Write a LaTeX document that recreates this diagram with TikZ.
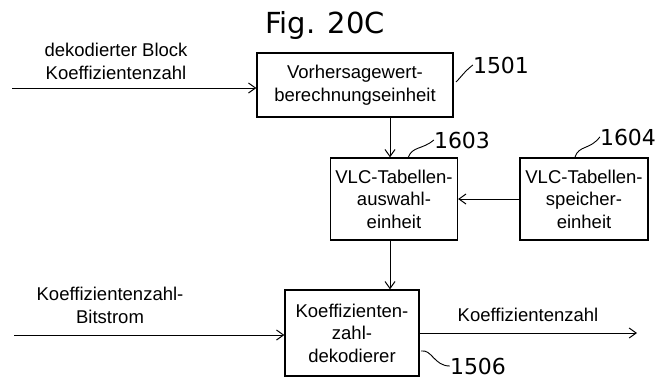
\documentclass[tikz,border=0pt]{standalone}
\usepackage{fontspec}
\setmainfont{Liberation Sans}
\newfontfamily\numfont{DejaVu Sans}
\usetikzlibrary{arrows.meta}
\begin{document}
\begin{tikzpicture}[x=1pt,y=-1pt,
  blk/.style={draw,line width=1.3pt,align=center,inner sep=0pt,font=\fontsize{18.5}{22.5}\selectfont},
  lbl/.style={align=center,inner sep=0pt,font=\fontsize{18.5}{23}\selectfont},
  refnum/.style={inner sep=0pt,font=\numfont\fontsize{22}{24}\selectfont},
  conn/.style={line width=1pt,-{Straight Barb[length=7pt,width=10pt]}},
  lead/.style={line width=0.9pt}]
\useasboundingbox (0,0) rectangle (658,381);
\node[inner sep=0pt,font=\numfont\fontsize{29}{30}\selectfont] (title) at (325,25) {Fig. 20C};
\node[blk,minimum width=196pt,minimum height=64pt] (b1501) at (355,85) {Vorhersagewert-\\berechnungseinheit};
\node[blk,minimum width=127pt,minimum height=82pt] (b1603) at (394,199) {VLC-Tabellen-\\auswahl-\\einheit};
\node[blk,minimum width=128pt,minimum height=82pt] (b1604) at (584,199) {VLC-Tabellen-\\speicher-\\einheit};
\node[blk,minimum width=134pt,minimum height=86pt] (b1506) at (352,333) {Koeffizienten-\\zahl-\\dekodierer};
\node[lbl] (l1) at (116,61) {dekodierter Block\\Koeffizientenzahl};
\node[lbl] (l2) at (110,305) {Koeffizientenzahl-\\Bitstrom};
\node[lbl] (l3) at (528,315) {Koeffizientenzahl};
\node[refnum] (n1501) at (501,65) {1501};
\node[refnum] (n1603) at (462,140) {1603};
\node[refnum] (n1604) at (628,137) {1604};
\node[refnum] (n1506) at (478,366) {1506};
\coordinate (in1) at (12,88);
\coordinate (in2) at (14,335);
\coordinate (out) at (637,333);
\draw[conn] (in1) -- (in1 -| b1501.west);
\draw[conn] ([xshift=-4pt]b1501.south -| b1603.north) -- ([xshift=-4pt]b1603.north);
\draw[conn] (b1604.west) -- (b1603.east);
\draw[conn] ([xshift=-4pt]b1603.south) -- ([xshift=-4pt]b1603.south |- b1506.north);
\draw[conn] (in2) -- (in2 -| b1506.west);
\draw[conn] (b1506.east) -- (out);
\coordinate (s1501) at (456,82);
\coordinate (s1603) at (408,158);
\coordinate (s1604) at (575,157);
\coordinate (s1506) at (421,351);
\draw[lead] (s1501) .. controls (462,76) and (464,72) .. (n1501.west);
\draw[lead] (s1603) .. controls (412,146) and (422,150) .. (n1603.west);
\draw[lead] (s1604) .. controls (579,145) and (590,150) .. (n1604.west);
\draw[lead] (s1506) .. controls (432,349) and (434,366) .. (n1506.west);
\end{tikzpicture}
\end{document}
